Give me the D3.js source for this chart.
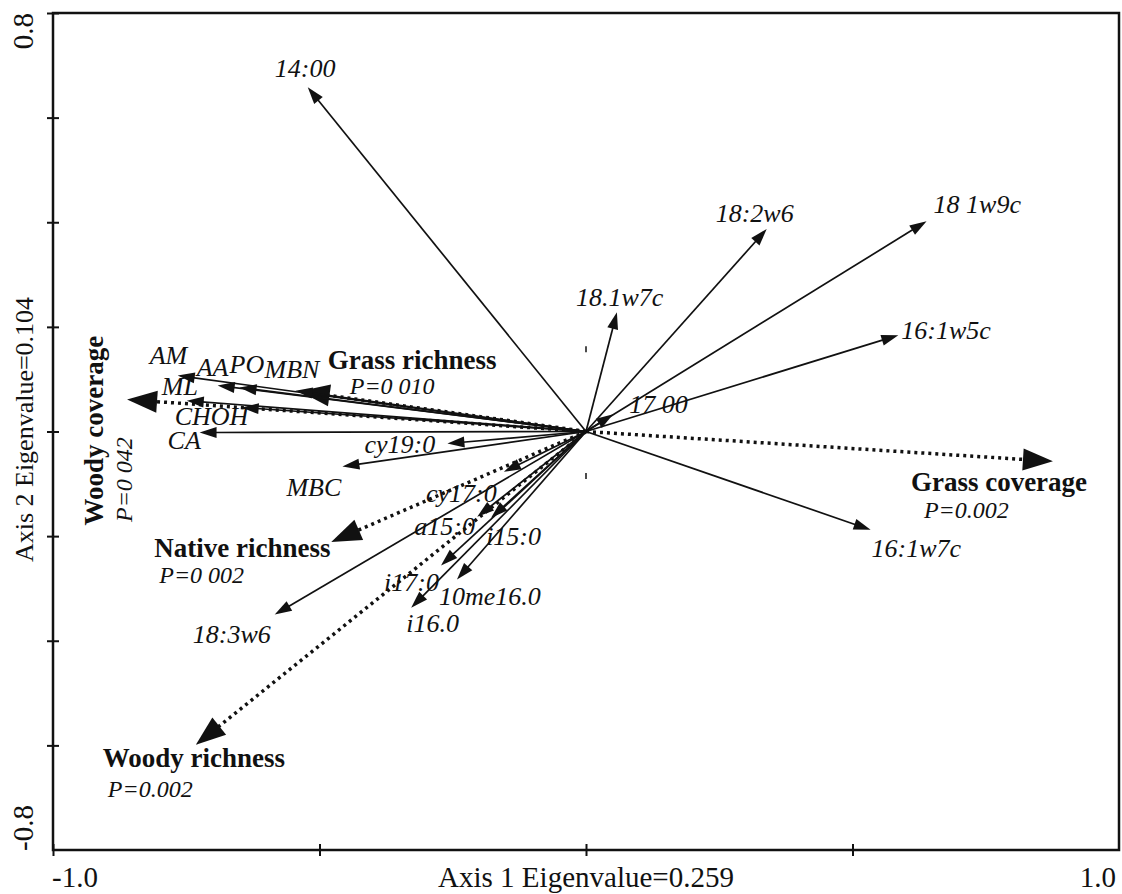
<!DOCTYPE html>
<meta charset="utf-8">
<style>
body { margin: 0; background: #fff; }
text { font-family: 'Liberation Serif', 'Times New Roman', serif; fill: #111; }
.lbl { font-style: italic; font-size: 26px; }
.env { font-weight: bold; font-size: 27px; }
.pval { font-style: italic; font-size: 24px; }
.axtitle { font-size: 29px; }
.frame { fill: none; stroke: #111; stroke-width: 2.5px; }
</style>
<body>
<script src="https://d3js.org/d3.v7.min.js"></script>
<script>

// fatty acid / microbial variables (solid arrows)
const speciesNames = ["14:00", "18:2w6", "18 1w9c", "18.1w7c", "16:1w5c", "17 00", "16:1w7c",
                      "AM", "AA", "PO", "MBN", "ML", "CHOH", "CA", "cy19:0", "MBC", "18:3w6",
                      "cy17:0", "a15:0", "i15:0", "i17:0", "10me16.0", "i16.0"];
const speciesX = [-0.522, 0.339, 0.639, 0.058, 0.586, 0.051, 0.534,
                  -0.766, -0.691, -0.650, -0.545, -0.749, -0.646, -0.725, -0.260, -0.457, -0.584,
                  -0.154, -0.204, -0.178, -0.272, -0.242, -0.328];
const speciesY = [0.658, 0.387, 0.402, 0.228, 0.184, 0.033, -0.188,
                  0.107, 0.088, 0.084, 0.078, 0.059, 0.046, -0.002, -0.023, -0.067, -0.350,
                  -0.077, -0.163, -0.165, -0.256, -0.283, -0.337];

// environmental variables (dotted arrows)
const envNames = ["Grass coverage", "Woody coverage", "Grass richness", "Native richness", "Woody richness"];
const envX = [0.876, -0.861, -0.537, -0.478, -0.732];
const envY = [-0.057, 0.061, 0.077, -0.211, -0.599];
const envP = ["P=0.002", "P=0 042", "P=0 010", "P=0 002", "P=0.002"];

// label placement, pixels from the arrow tip
const labelOffset = {
  "14:00": [-33, -10], "18:2w6": [-51, -7], "18 1w9c": [7, -8], "18.1w7c": [-41, -6],
  "16:1w5c": [3, 4], "17 00": [16, -1], "16:1w7c": [1, 27],
  "AM": [-28, -12], "AA": [-21, -9], "PO": [-10, -15], "MBN": [-31, -13], "ML": [-25, -6],
  "CHOH": [-67, 18], "CA": [-32, 16], "cy19:0": [-83, 9], "MBC": [-56, 29], "18:3w6": [-82, 28],
  "cy17:0": [-78, 30], "a15:0": [-63, 18], "i15:0": [-5, 27], "i17:0": [-57, 26],
  "10me16.0": [-18, 25], "i16.0": [-5, 24]
};
const envOffset = {
  "Grass coverage": [[-142, 30], [-129, 57]],
  "Grass richness": [[28, -22], [50, 3]],
  "Native richness": [[-177, 15], [-172, 41]],
  "Woody richness": [[-93, 22], [-88, 52]]
};

const width = 1122, height = 894;
const x = d3.scaleLinear().domain([-1, 1]).range([53, 1119]),
      y = d3.scaleLinear().domain([-0.8, 0.8]).range([850, 13]);

const svg = d3.select("body").append("svg")
    .attr("width", width)
    .attr("height", height);

// frame
svg.append("rect").attr("class", "frame")
    .attr("x", x(-1)).attr("y", y(0.8))
    .attr("width", x(1) - x(-1)).attr("height", y(-0.8) - y(0.8));

// ticks crossing the frame
const xAxis = svg.append("g")
    .attr("transform", `translate(0,${y(-0.8) - 6})`)
    .call(d3.axisBottom(x).tickValues([-1, -0.5, 0, 0.5]).tickSize(12).tickFormat(""));
const yAxis = svg.append("g")
    .attr("transform", `translate(${x(-1) + 6},0)`)
    .call(d3.axisLeft(y).tickValues(d3.range(-0.6, 0.81, 0.2)).tickSize(12).tickFormat(""));
[xAxis, yAxis].forEach(a => {
  a.select(".domain").remove();
  a.selectAll("line").attr("stroke", "#111").attr("stroke-width", 2);
});

// little marks near the origin
svg.append("g").selectAll("line")
  .data([0.157, -0.085])
  .join("line")
    .attr("x1", x(0)).attr("x2", x(0))
    .attr("y1", d => y(d) - 3).attr("y2", d => y(d) + 3)
    .attr("stroke", "#111").attr("stroke-width", 1.5);

// tick labels
svg.append("text").attr("class", "axtitle").attr("x", x(-1) + 22).attr("y", 887)
    .attr("text-anchor", "middle").text("-1.0");
svg.append("text").attr("class", "axtitle").attr("x", x(1) - 3).attr("y", 887)
    .attr("text-anchor", "end").text("1.0");
svg.append("text").attr("class", "axtitle")
    .attr("transform", `translate(33,${y(0.8) + 18}) rotate(-90)`)
    .attr("text-anchor", "middle").text("0.8");
svg.append("text").attr("class", "axtitle")
    .attr("transform", `translate(33,${y(-0.8) - 22}) rotate(-90)`)
    .attr("text-anchor", "middle").text("-0.8");

// axis titles
svg.append("text").attr("class", "axtitle").attr("x", x(0)).attr("y", 887)
    .attr("text-anchor", "middle").text("Axis 1 Eigenvalue=0.259");
svg.append("text").attr("class", "axtitle").style("font-size", "26px")
    .attr("transform", `translate(33,${y(0) - 2}) rotate(-90)`)
    .attr("text-anchor", "middle").text("Axis 2 Eigenvalue=0.104");

const ox = x(0), oy = y(0);

function arrow(tx, ty, headLen, headW) {
  const dx = tx - ox, dy = ty - oy, L = Math.hypot(dx, dy);
  const ux = dx / L, uy = dy / L;
  const bx = tx - ux * headLen, by = ty - uy * headLen;
  return {
    line: [ox, oy, bx + ux * 2, by + uy * 2],
    head: [[tx, ty], [bx - uy * headW / 2, by + ux * headW / 2], [bx + uy * headW / 2, by - ux * headW / 2]]
  };
}

const species = speciesNames.map((n, i) => ({name: n, vx: speciesX[i], vy: speciesY[i]}));
const env = envNames.map((n, i) => ({name: n, vx: envX[i], vy: envY[i], p: envP[i]}));

// dotted environmental arrows
const eg = svg.append("g");
env.forEach(d => {
  const a = arrow(x(d.vx), y(d.vy), 30, 22);
  eg.append("line")
      .attr("x1", a.line[0]).attr("y1", a.line[1]).attr("x2", a.line[2]).attr("y2", a.line[3])
      .attr("stroke", "#111").attr("stroke-width", 3.5)
      .attr("stroke-dasharray", "3,4");
  eg.append("polygon").attr("points", a.head.map(p => p.join(",")).join(" ")).attr("fill", "#111");
});

// solid species arrows
const sg = svg.append("g");
species.forEach(d => {
  const a = arrow(x(d.vx), y(d.vy), 17, 11);
  sg.append("line")
      .attr("x1", a.line[0]).attr("y1", a.line[1]).attr("x2", a.line[2]).attr("y2", a.line[3])
      .attr("stroke", "#111").attr("stroke-width", 1.7);
  sg.append("polygon").attr("points", a.head.map(p => p.join(",")).join(" ")).attr("fill", "#111");
});

// species labels
svg.append("g").selectAll("text")
  .data(species)
  .join("text")
    .attr("class", "lbl")
    .attr("x", d => x(d.vx) + labelOffset[d.name][0])
    .attr("y", d => y(d.vy) + labelOffset[d.name][1])
    .text(d => d.name);

// environmental labels
env.filter(d => envOffset[d.name]).forEach(d => {
  const o = envOffset[d.name];
  svg.append("text").attr("class", "env")
      .attr("x", x(d.vx) + o[0][0]).attr("y", y(d.vy) + o[0][1]).text(d.name);
  svg.append("text").attr("class", "pval")
      .attr("x", x(d.vx) + o[1][0]).attr("y", y(d.vy) + o[1][1]).text(d.p);
});
// Woody coverage is written vertically
const wc = env.find(d => d.name == "Woody coverage");
svg.append("text").attr("class", "env")
    .attr("transform", `translate(${x(wc.vx) - 24},${y(wc.vy) + 31}) rotate(-90)`)
    .attr("text-anchor", "middle").text(wc.name);
svg.append("text").attr("class", "pval")
    .attr("transform", `translate(${x(wc.vx) + 5},${y(wc.vy) + 80}) rotate(-90)`)
    .attr("text-anchor", "middle").text(wc.p);

</script>
